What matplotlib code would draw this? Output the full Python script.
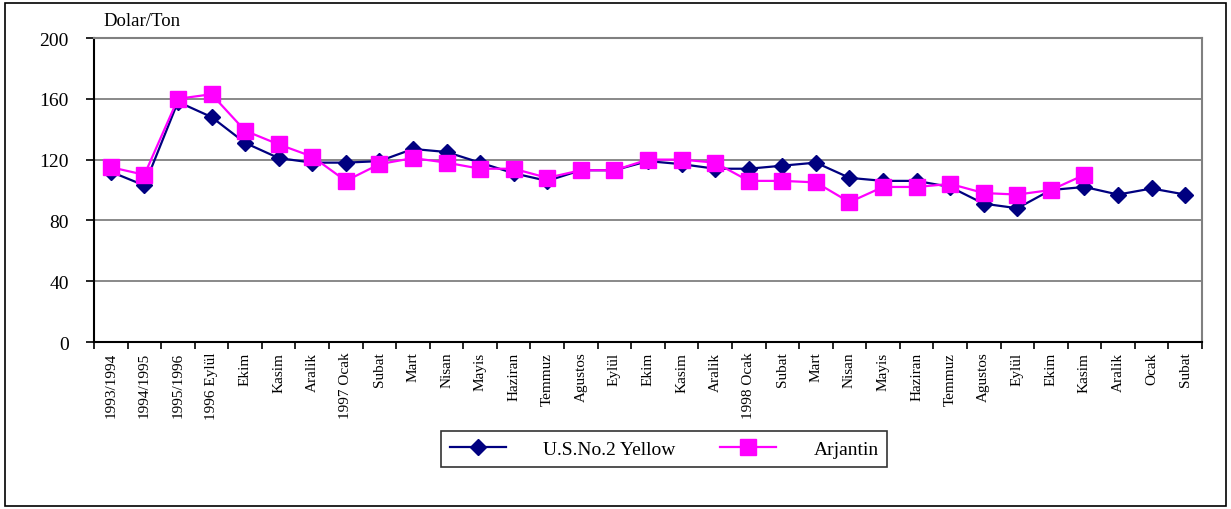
import matplotlib
matplotlib.use('Agg')
from matplotlib import pyplot as plt
from matplotlib.patches import Rectangle
import numpy as np

plt.rcParams['font.family'] = ['Liberation Serif', 'DejaVu Serif']

categories = ['1993/1994', '1994/1995', '1995/1996', '1996 Eylül', 'Ekim', 'Kasim',
              'Aralik', '1997 Ocak', 'Subat', 'Mart', 'Nisan', 'Mayis', 'Haziran',
              'Temmuz', 'Agustos', 'Eylül', 'Ekim', 'Kasim', 'Aralik', '1998 Ocak',
              'Subat', 'Mart', 'Nisan', 'Mayis', 'Haziran', 'Temmuz', 'Agustos',
              'Eylül', 'Ekim', 'Kasim', 'Aralik', 'Ocak', 'Subat']

us_yellow = [112, 103, 158, 148, 131, 121, 118, 118, 119, 127, 125, 118, 111,
             106, 113, 113, 119, 117, 114, 114, 116, 118, 108, 106, 106, 102,
             91, 88, 100, 102, 97, 101, 97]

arjantin = [115, 110, 160, 163, 139, 130, 122, 106, 117, 121, 118, 114, 114,
            108, 113, 113, 120, 120, 118, 106, 106, 105, 92, 102, 102, 104,
            98, 97, 100, 110, None, None, None]

yticks = [0, 40, 80, 120, 160, 200]

x = np.arange(len(categories))
arj = np.array([np.nan if v is None else v for v in arjantin], dtype=float)

fig = plt.figure(figsize=(12.31, 5.10), dpi=100)
ax = fig.add_axes([94 / 1231, 1 - 343 / 510, 1108 / 1231, 304 / 510])

ax.plot(x, us_yellow, color='#000080', marker='D', markersize=8, linewidth=1.6,
        label='U.S.No.2 Yellow', zorder=3)
ax.plot(x, arj, color='#FF00FF', marker='s', markersize=11, linewidth=1.6,
        label='Arjantin', zorder=4)

ax.set_xlim(-0.5, len(categories) - 0.5)
ax.set_ylim(0, 200)
ax.set_yticks(yticks)
ax.set_yticklabels([str(t) for t in yticks], fontsize=14)
ax.yaxis.grid(True, color='#808080', linewidth=1.3)
ax.set_axisbelow(True)

ax.set_xticks(x)
ax.set_xticklabels(categories, rotation=90, fontsize=11)
ax.set_xticks(np.arange(len(categories) + 1) - 0.5, minor=True)
ax.tick_params(axis='x', which='major', length=0, pad=7)
ax.tick_params(axis='x', which='minor', length=5, width=1.2, direction='out')
ax.tick_params(axis='y', length=6, width=1.2, direction='out', pad=12)

for side in ['top', 'right']:
    ax.spines[side].set_color('#808080')
    ax.spines[side].set_linewidth(1.5)
for side in ['left', 'bottom']:
    ax.spines[side].set_color('black')
    ax.spines[side].set_linewidth(1.5)

fig.text(103 / 1231, 1 - 22 / 510, 'Dolar/Ton', fontsize=13.5, va='center', ha='left')

leg = fig.legend(loc='center', bbox_to_anchor=(664 / 1231, 1 - 450 / 510), ncol=2,
                 fontsize=14, frameon=True, fancybox=False, edgecolor='black',
                 handlelength=2.9, handletextpad=1.9, columnspacing=2.3,
                 borderpad=0.45, borderaxespad=0)
leg.get_frame().set_linewidth(1.2)

# outer border of the chart
fig.patches.append(Rectangle((5 / 1231, 3 / 510), 1221 / 1231, 503 / 510,
                             transform=fig.transFigure, fill=False,
                             edgecolor='black', linewidth=1.2))

fig.savefig('out.png', dpi=100)
